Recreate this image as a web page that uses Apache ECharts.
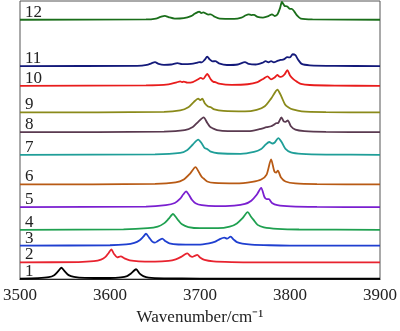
<!DOCTYPE html>
<html><head><meta charset="utf-8">
<script src="https://cdn.jsdelivr.net/npm/echarts@6/dist/echarts.min.js"></script>
<style>html,body{margin:0;padding:0;background:#fff}#c{width:400px;height:331px}</style>
</head><body><div id="c"></div>
<script>
var traceLabels = ['1','2','3','4','5','6','7','8','9','10','11','12'];
var xTicks = [3500, 3600, 3700, 3800, 3900];
var offsets = [0.5, 17, 34, 50, 73, 96, 126, 149, 169, 196, 216, 263];
var colors = ['#000000','#e8232f','#1f3fd0','#1fa050','#7a1fd0','#b85a14','#1f9e98','#5a3a50','#8a8a1a','#e81c1c','#141a7a','#1a6e1a'];

var t1 = [[3500,0],[3520,0.5],[3532,1.5],[3538,3.5],[3542,7],[3546,11],[3550,7],[3554,3.5],[3560,1.8],[3572,0.8],[3600,0.6],[3612,1.2],[3619,2.5],[3623,5],[3629,9.5],[3633,5],[3637,2.5],[3643,1],[3660,0.3],[3700,0],[3900,0]];
var t2 = [[3500,0],[3565,0.3],[3582,1.2],[3590,2.8],[3595,5.5],[3598.5,9.5],[3601.5,13],[3604.5,8.5],[3608,5],[3612,6],[3616,4],[3622,2],[3632,1],[3650,0.8],[3665,1.5],[3673,3],[3679,5.5],[3683,8],[3686,9],[3689,6.5],[3691.5,5.5],[3694,6.5],[3697,7.5],[3700,5],[3705,2.5],[3715,1],[3735,0.3],[3760,0],[3900,0]];
var t3 = [[3500,0],[3600,0.3],[3618,1.2],[3627,2.8],[3633,5.5],[3637,9],[3640,12],[3643.5,8],[3647,4],[3650,3],[3653,4.5],[3658,7],[3661.5,4.5],[3666,2.2],[3676,1.1],[3698,0.9],[3710,2.2],[3717,4],[3722,6.5],[3727,8],[3730,7],[3734,9],[3737.5,6],[3741,3.5],[3747,2],[3757,1],[3777,0.3],[3800,0],[3900,0]];
var t4 = [[3500,0],[3615,0.5],[3642,1.6],[3653,3.2],[3660,6.5],[3665,11],[3670,16],[3673.5,12.5],[3676,9.5],[3680,5.5],[3687,2.8],[3700,1.6],[3720,1.6],[3733,3.2],[3741,6.5],[3747,11.5],[3753,18],[3756.5,13.5],[3759.5,10],[3764,5],[3771,2.5],[3786,1],[3810,0.3],[3900,0]];
var t5 = [[3500,0],[3640,0.5],[3662,2],[3672,4.2],[3678,8.5],[3681.5,13],[3684.5,16],[3688,12],[3691,7.5],[3695,4],[3702,2],[3717,1],[3738,1.6],[3750,3.2],[3757,6.5],[3763,12.5],[3768,19.5],[3771.5,10.5],[3774,8],[3776.5,8],[3780,4.2],[3786,2],[3801,0.7],[3830,0.2],[3900,0]];
var t6 = [[3500,0],[3650,0.5],[3673,2],[3682,5],[3689,11],[3695,17.5],[3699,12],[3702,7.5],[3704,6],[3708,3],[3716,1.5],[3740,1],[3758,2.6],[3768,5],[3774,10],[3779,25.5],[3782.5,13.5],[3784.5,12],[3786.5,14],[3790,7],[3795,3],[3806,1],[3830,0.3],[3900,0]];
var t7 = [[3500,0],[3650,0.5],[3678,2],[3686,5],[3692,10.5],[3698,15.5],[3702,11.5],[3705,7],[3708,6],[3712,3.2],[3720,1.6],[3745,1],[3760,3],[3768,6],[3773,10.5],[3777,13],[3780.5,11.5],[3783,12.5],[3787,17],[3791,12.5],[3795,6],[3801,2.5],[3813,1],[3840,0.3],[3900,0]];
var t8 = [[3500,0],[3660,0.5],[3683,2],[3692,5.2],[3698,10.5],[3704,15],[3708,9.5],[3711,5.5],[3714,4],[3719,2],[3731,1],[3754,1],[3766,3],[3774,5],[3779,6],[3782,7.5],[3784.5,9],[3787,9.5],[3790.5,15],[3793,11],[3795,10.5],[3797.5,12],[3801,6],[3806,2.5],[3816,1],[3840,0.3],[3900,0]];
var t9 = [[3500,0],[3660,0.5],[3678,2],[3687,5.2],[3693,10.5],[3698,14],[3700.3,12.5],[3702.5,14],[3705.5,9],[3709,6],[3712,5.2],[3716,3],[3726,1.5],[3750,1],[3763,2.6],[3772,6.2],[3779,14],[3786,23],[3790.5,16],[3794.5,8],[3798.5,5],[3803,3],[3813,1],[3840,0.3],[3900,0]];
var t10 = [[3500,0],[3640,0.5],[3665,1.5],[3674,3.5],[3678,4.5],[3680,3.8],[3682,4.2],[3686,3.2],[3692,3.8],[3697,6.2],[3701,8],[3703.5,7],[3708,12],[3712,6.5],[3715,4],[3717,3.8],[3721,2.2],[3735,1],[3753,1.6],[3764,3.8],[3771,7.5],[3775,9.5],[3779,6.5],[3783,8.5],[3786,11],[3788,9.5],[3790,9],[3794,11.5],[3797,16],[3800,10.5],[3804,6.5],[3808,4],[3812,2],[3822,0.8],[3850,0.2],[3900,0]];
var t11 = [[3500,0],[3630,0.3],[3641,1.2],[3646,2.8],[3650,4],[3654,2.2],[3660,1.2],[3668,1.6],[3675,3],[3680,2],[3690,2.2],[3696,3.2],[3699,4],[3702,3.8],[3705,6.2],[3708,9.5],[3711,6.5],[3714,4.8],[3717,5],[3721,2.8],[3730,1.1],[3742,1.6],[3750,4],[3754,2.2],[3762,1.6],[3769,3.2],[3773,5],[3776,3.8],[3779,5],[3782,3.8],[3786,5.2],[3789.5,6.2],[3793,6.8],[3797,9],[3800,8.8],[3803,12],[3806,11],[3809,6.5],[3813,2.2],[3822,0.8],[3850,0.2],[3900,0]];
var t12 = [[3500,0],[3640,0.3],[3651,1.2],[3656,2.8],[3661,4],[3665,2.7],[3672,1.1],[3682,1.6],[3690,3.6],[3694,6],[3697,7.5],[3699,8.3],[3701.5,6.8],[3703.6,7.5],[3707,6],[3709,5.2],[3712,5.5],[3716,3.2],[3722,1.1],[3738,0.9],[3746,2.2],[3751,4.6],[3754,5.5],[3757,4.7],[3760,5],[3764,2.8],[3770,2.2],[3776,3.6],[3780,5.5],[3783,3.8],[3786,5.2],[3789,12],[3791,18],[3794,14],[3797,13.5],[3800,11],[3802,11],[3805,8],[3808,4.2],[3812,1.2],[3825,0.3],[3900,0]];
var traces = [t1,t2,t3,t4,t5,t6,t7,t8,t9,t10,t11,t12];

var chart = echarts.init(document.getElementById('c'));
var series = traces.map(function (tr, i) {
  return {
    type: 'line', showSymbol: false, smooth: 0.25, silent: true,
    lineStyle: { color: colors[i], width: 1.8 },
    data: tr.map(function (p) { return [p[0], p[1] + offsets[i]]; }),
    z: 2
  };
});
var serif = 'Liberation Serif, Times New Roman, serif';
chart.setOption({
  animation: false,
  grid: { left: 17, right: 15, top: 1, bottom: 48, show: true, borderColor: '#555', borderWidth: 1 },
  xAxis: {
    type: 'value', min: 3500, max: 3900, interval: 100,
    axisLine: { show: true, lineStyle: { color: '#222', width: 1.2 } },
    axisTick: { show: false }, splitLine: { show: false },
    axisLabel: { margin: 8, fontFamily: serif, fontSize: 17, color: '#222',
      formatter: function (v) { return xTicks.indexOf(v) >= 0 ? String(v) : ''; } },
    name: 'Wavenumber/cm\u207B\u00B9', nameLocation: 'middle', nameGap: 26,
    nameTextStyle: { fontFamily: serif, fontSize: 17, color: '#222' }
  },
  yAxis: { type: 'value', min: 0, max: 282, show: false, splitLine: { show: false } },
  series: series
});
var g = traceLabels.map(function (t, i) {
  var p = chart.convertToPixel({ gridIndex: 0 }, [3500, offsets[i]]);
  return { type: 'text', left: 25, top: p[1] - 16,
    style: { text: t, font: '17px ' + serif, fill: '#222' } };
});
chart.setOption({ graphic: g });
</script></body></html>
